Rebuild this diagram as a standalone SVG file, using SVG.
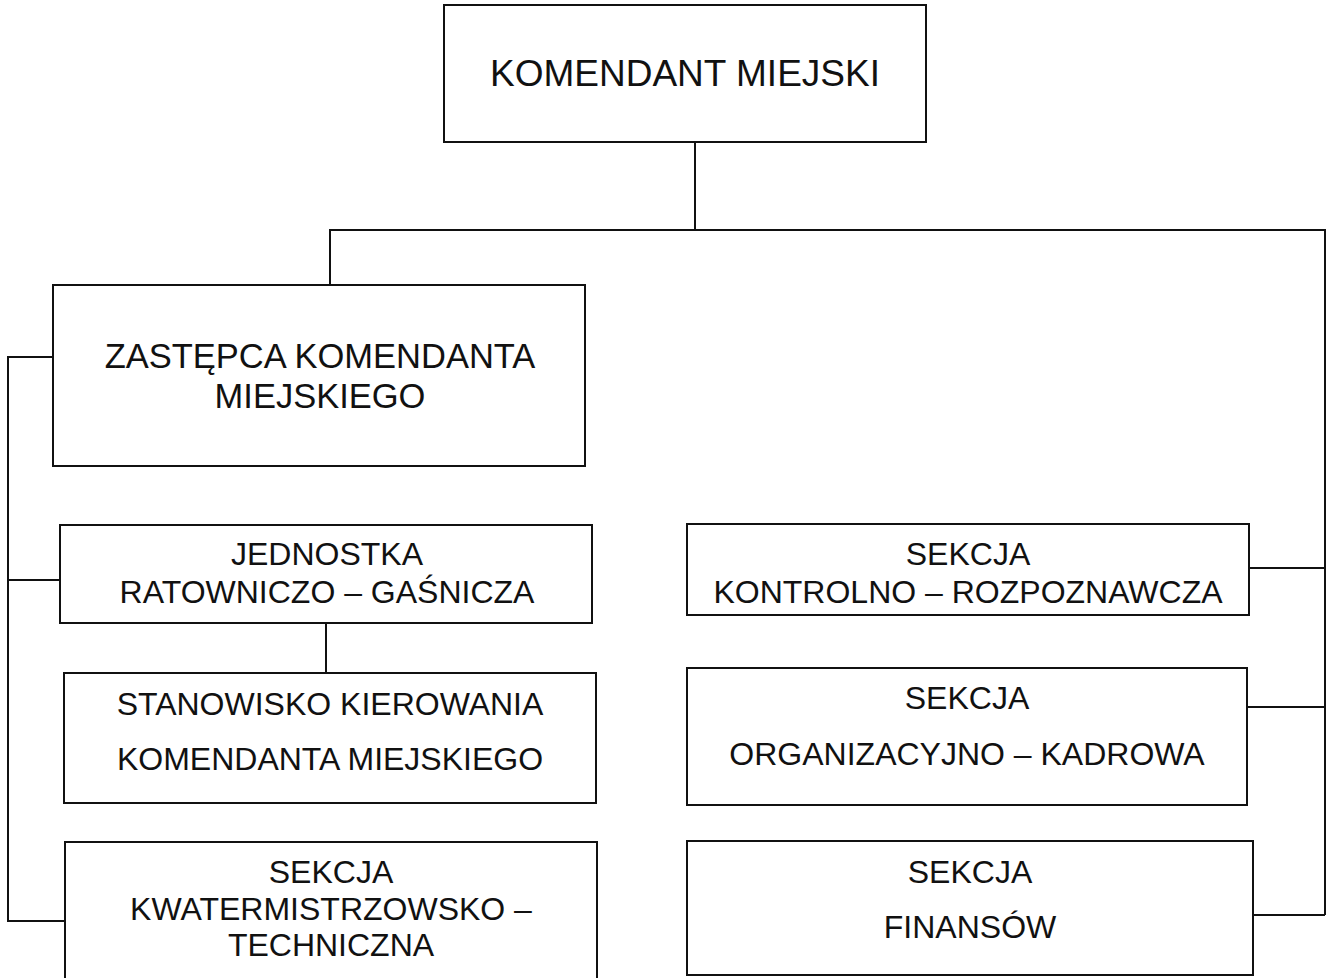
<svg xmlns="http://www.w3.org/2000/svg" width="1327" height="978" viewBox="0 0 1327 978">
<style>
.box{fill:#fff;stroke:#111;stroke-width:2}
.ln{fill:none;stroke:#111;stroke-width:2}
text{font-family:"Liberation Sans",Arial,sans-serif;fill:#111;text-anchor:middle}
.t{font-size:32px}
</style>
<rect width="1327" height="978" fill="#fff"/>
<g id="connectors">
<path class="ln" d="M695 142V230M330 285V230H1325V915"/>
<path class="ln" d="M1249 568H1325M1247 707H1325M1253 915H1325"/>
<path class="ln" d="M53 357H8V921H65M8 580H60"/>
<path class="ln" d="M326 623V673"/>
</g>
<g id="n-komendant">
<rect class="box" x="444" y="5" width="482" height="137"/>
<text x="685" y="86" style="font-size:37px">KOMENDANT MIEJSKI</text>
</g>
<g id="n-zastepca">
<rect class="box" x="53" y="285" width="532" height="181"/>
<text x="320" y="368" style="font-size:34.5px">ZASTĘPCA KOMENDANTA</text>
<text x="320" y="408" style="font-size:34.5px">MIEJSKIEGO</text>
</g>
<g id="n-jrg">
<rect class="box" x="60" y="525" width="532" height="98"/>
<text class="t" x="327" y="565">JEDNOSTKA</text>
<text class="t" x="327" y="603">RATOWNICZO – GAŚNICZA</text>
</g>
<g id="n-skkm">
<rect class="box" x="64" y="673" width="532" height="130"/>
<text class="t" x="330" y="715">STANOWISKO KIEROWANIA</text>
<text class="t" x="330" y="770">KOMENDANTA MIEJSKIEGO</text>
</g>
<g id="n-kwater">
<rect class="box" x="65" y="842" width="532" height="140"/>
<text class="t" x="331" y="883">SEKCJA</text>
<text class="t" x="331" y="920">KWATERMISTRZOWSKO –</text>
<text class="t" x="331" y="956">TECHNICZNA</text>
</g>
<g id="n-kontrol">
<rect class="box" x="687" y="524" width="562" height="91"/>
<text class="t" x="968" y="565">SEKCJA</text>
<text class="t" x="968" y="603">KONTROLNO – ROZPOZNAWCZA</text>
</g>
<g id="n-org">
<rect class="box" x="687" y="668" width="560" height="137"/>
<text class="t" x="967" y="709">SEKCJA</text>
<text class="t" x="967" y="765">ORGANIZACYJNO – KADROWA</text>
</g>
<g id="n-fin">
<rect class="box" x="687" y="841" width="566" height="134"/>
<text class="t" x="970" y="883">SEKCJA</text>
<text class="t" x="970" y="938">FINANSÓW</text>
</g>
</svg>
